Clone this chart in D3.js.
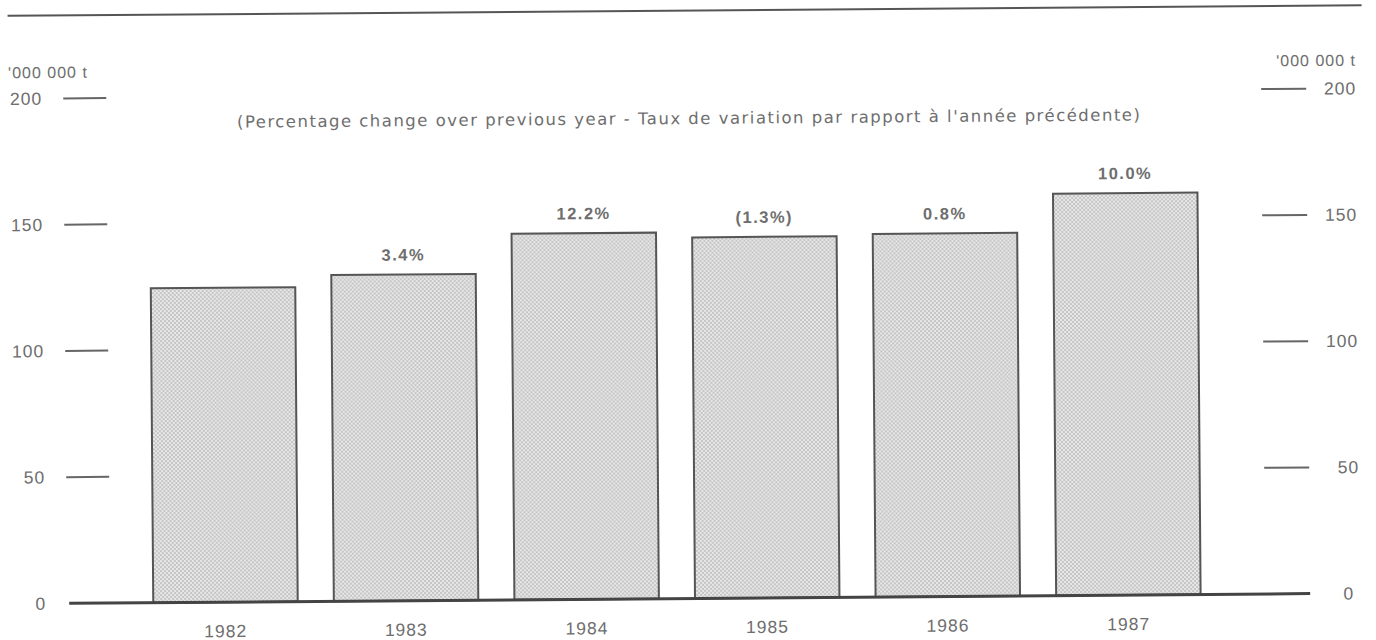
<!DOCTYPE html>
<html lang="en">
	<head>
		<meta charset="utf-8">
		<title>Tonnage 1982-1987</title>
		<script type="text/javascript" src="https://d3js.org/d3.v7.min.js" charset="utf-8"></script>
		<style type="text/css">
		body { margin: 0; background: #fff; }
		text { font-family: "Liberation Sans", Arial, sans-serif; fill: #6e6e6e; }
		</style>
		<script type="text/javascript">
		// values, million tonnes
		var years = ["1982", "1983", "1984", "1985", "1986", "1987"];
		var tonnes = [124.5, 129.2, 145.0, 143.0, 143.8, 159.2];
		var changeLabels = ["", "3.4%", "12.2%", "(1.3%)", "0.8%", "10.0%"];
		var tickValues = [0, 50, 100, 150, 200];
		var unitLabel = "'000 000 t";
		var subTitle = "(Percentage change over previous year - Taux de variation par rapport \u00e0 l'ann\u00e9e pr\u00e9c\u00e9dente)";
		</script>
	</head>
	<body>
<div id="chart"></div>
<script type="text/javascript">
		var W = 1376, H = 640;
		var baseY = 598.5, topY = 93.5;

		var svg = d3.select("#chart")
			.append("svg")
			.attr("width", W)
			.attr("height", H);

		// dotted screen for the bars
		var pat = svg.append("defs").append("pattern")
			.attr("id", "dots")
			.attr("patternUnits", "userSpaceOnUse")
			.attr("width", 4)
			.attr("height", 4);
		pat.append("rect").attr("width", 4).attr("height", 4).attr("fill", "#e8e8e8");
		pat.append("circle").attr("cx", 1).attr("cy", 1).attr("r", 0.8).attr("fill", "#9a9a9a");
		pat.append("circle").attr("cx", 3).attr("cy", 3).attr("r", 0.8).attr("fill", "#9a9a9a");

		// the scan sits slightly skewed, so tilt the whole thing a touch
		var g = svg.append("g").attr("transform", "rotate(-0.45," + W / 2 + "," + H / 2 + ")");

		var x = d3.scaleBand()
			.domain(years)
			.range([133, 1216.5])
			.paddingInner(0.2)
			.paddingOuter(0.1);

		var y = d3.scaleLinear()
			.domain([0, 200])
			.range([baseY, topY]);

		// top rule
		g.append("line")
			.attr("x1", 10).attr("x2", 1364)
			.attr("y1", 10.5).attr("y2", 10.5)
			.attr("stroke", "#555").attr("stroke-width", 2);

		// units
		g.append("text").attr("x", 10).attr("y", 73)
			.attr("font-size", "16px").attr("letter-spacing", "1px")
			.text(unitLabel);
		g.append("text").attr("x", 1358).attr("y", 71)
			.attr("text-anchor", "end")
			.attr("font-size", "16px").attr("letter-spacing", "1px")
			.text(unitLabel);

		// subtitle (style, so it wins over the css rule)
		g.append("text").attr("x", 690).attr("y", 124)
			.attr("text-anchor", "middle")
			.style("font-family", "'DejaVu Sans', sans-serif")
			.style("font-size", "16.5px")
			.attr("textLength", 903).attr("lengthAdjust", "spacing")
			.text(subTitle);

		// left axis ticks
		var leftAxis = d3.axisLeft(y).tickValues(tickValues).tickSize(0).tickPadding(0);
		var la = g.append("g").attr("transform", "translate(44,0)").call(leftAxis);
		la.select(".domain").remove();
		la.attr("font-family", null);
		la.selectAll("text")
			.attr("font-size", "17.5px").attr("letter-spacing", "1px")
			.attr("fill", null);

		g.selectAll("line.ltick")
			.data(tickValues.filter(function(d) { return d > 0; }))
			.enter()
			.append("line")
			.attr("class", "ltick")
			.attr("x1", 65).attr("x2", 108)
			.attr("y1", function(d) { return y(d); })
			.attr("y2", function(d) { return y(d); })
			.attr("stroke", "#666").attr("stroke-width", 2);

		// right axis ticks
		var rightAxis = d3.axisRight(y).tickValues(tickValues).tickSize(0).tickPadding(0);
		var ra = g.append("g").attr("transform", "translate(1358,0)").call(rightAxis);
		ra.select(".domain").remove();
		ra.attr("font-family", null);
		ra.selectAll("text")
			.attr("text-anchor", "end")
			.attr("dx", function(d) { return d === 0 ? -6 : 0; })
			.attr("font-size", "17.5px").attr("letter-spacing", "1px")
			.attr("fill", null);

		g.selectAll("line.rtick")
			.data(tickValues.filter(function(d) { return d > 0; }))
			.enter()
			.append("line")
			.attr("class", "rtick")
			.attr("x1", 1263).attr("x2", 1308)
			.attr("y1", function(d) { return y(d); })
			.attr("y2", function(d) { return y(d); })
			.attr("stroke", "#666").attr("stroke-width", 2);

		// bars
		g.selectAll("rect.bar")
			.data(tonnes)
			.enter()
			.append("rect")
			.attr("class", "bar")
			.attr("x", function(d, i) { return x(years[i]); })
			.attr("y", function(d) { return y(d); })
			.attr("width", x.bandwidth())
			.attr("height", function(d) { return baseY - y(d); })
			.attr("fill", "url(#dots)")
			.attr("stroke", "#555")
			.attr("stroke-width", 2);

		// baseline
		g.append("line")
			.attr("x1", 67).attr("x2", 1308)
			.attr("y1", baseY).attr("y2", baseY)
			.attr("stroke", "#444").attr("stroke-width", 3);

		// change labels
		g.selectAll("text.pct")
			.data(tonnes)
			.enter()
			.append("text")
			.attr("class", "pct")
			.attr("x", function(d, i) { return x(years[i]) + x.bandwidth() / 2; })
			.attr("y", function(d) { return y(d) - 14; })
			.attr("text-anchor", "middle")
			.attr("font-size", "16.5px")
			.attr("font-weight", "bold")
			.attr("letter-spacing", "1.5px")
			.text(function(d, i) { return changeLabels[i]; });

		// year labels
		g.selectAll("text.yr")
			.data(years)
			.enter()
			.append("text")
			.attr("class", "yr")
			.attr("x", function(d) { return x(d) + x.bandwidth() / 2; })
			.attr("y", baseY + 35)
			.attr("text-anchor", "middle")
			.attr("font-size", "17.5px")
			.attr("letter-spacing", "1px")
			.text(function(d) { return d; });
</script>
	</body>
</html>
